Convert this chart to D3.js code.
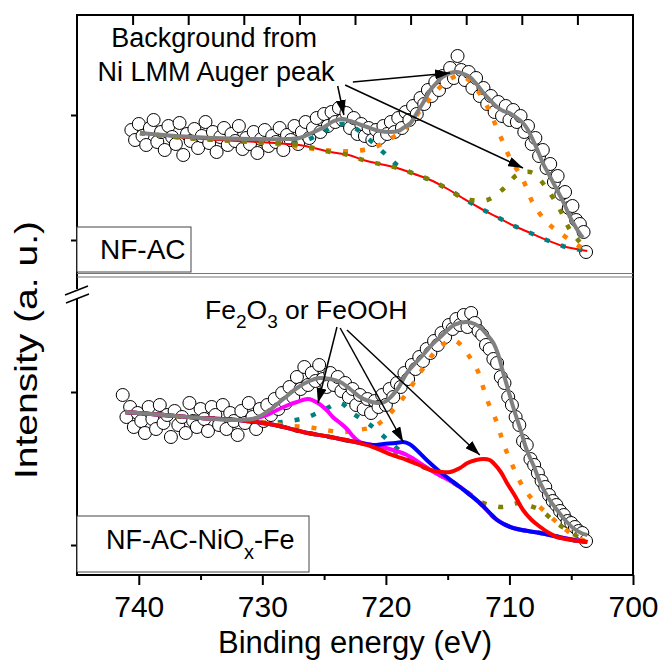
<!DOCTYPE html>
<html>
<head>
<meta charset="utf-8">
<script src="https://cdn.jsdelivr.net/npm/d3@7"></script>
<style>
body { margin: 0; background: #fff; }
text { font-family: Arial, "Liberation Sans", sans-serif; fill: #000; }
</style>
</head>
<body>
<div id="chart"></div>
<script>
const width = 662;
const height = 661;

// ---- data: NF-AC (top panel), [binding energy, intensity a.u.] ----
const topPts = [[740.6,110],[740.3,100],[740.0,116],[739.7,104],[739.4,95],[739.1,112],[738.8,120],[738.5,98],[738.2,108],[737.9,90],
  [737.6,114],[737.3,103],[737.0,96],[736.7,117],[736.4,85],[736.1,106],[735.8,99],[735.5,111],[735.2,92],[734.9,104],
  [734.6,118],[734.3,97],[734.0,108],[733.7,88],[733.4,103],[733.1,112],[732.8,95],[732.5,106],[732.2,99],[731.9,114],
  [731.6,91],[731.3,102],[731.0,96],[730.7,108],[730.4,87],[730.1,101],[729.8,110],[729.5,94],[729.2,104],[728.9,98],
  [728.6,112],[728.3,90],[728.0,105],[727.7,100],[727.4,114],[727.1,96],[726.8,108],[726.5,118],[726.2,102],[725.9,112],
  [725.6,122],[725.3,108],[725.0,126],[724.7,114],[724.4,128],[724.1,118],[723.8,132],[723.5,120],[723.2,127],[722.9,112],
  [722.6,122],[722.3,106],[722.0,116],[721.7,104],[721.4,112],[721.1,100],[720.8,110],[720.5,102],[720.2,114],[719.9,106],
  [719.6,118],[719.3,108],[719.0,122],[718.7,112],[718.4,128],[718.1,120],[717.8,134],[717.5,126],[717.2,142],[716.9,136],
  [716.6,150],[716.3,144],[716.0,158],[715.7,150],[715.4,164],[715.1,158],[714.8,172],[714.5,162],[714.2,184],[713.9,170],
  [713.6,160],[713.3,168],[713.0,152],[712.7,162],[712.4,144],[712.1,152],[711.8,136],[711.5,144],[711.2,128],[710.9,138],
  [710.6,124],[710.3,134],[710.0,120],[709.7,130],[709.4,118],[709.1,124],[708.8,108],[708.5,114],[708.2,96],[707.9,102],
  [707.6,84],[707.3,90],[707.0,72],[706.7,76],[706.4,58],[706.1,64],[705.8,46],[705.5,48],[705.2,32],[704.9,34],
  [704.6,20],[704.3,16],[704.0,8],[703.8,-12]];
const topFit = [[739.9,107],[737,104],[734,102],[731,101],[728,101],[727,102],[726,107],[725,113],[724.2,119],[723.5,121],
  [722.9,119],[722,115],[721.3,112],[720.5,109],[719.7,108],[719,109],[718.6,112],[718,117],[717.5,127],[717,137],
  [716.4,150],[715.9,157],[715.4,163],[714.8,167],[714.2,168],[713.7,166],[713.2,163],[712.6,155],[712.1,147],[711.5,139],
  [711,133],[710.5,129],[710,127],[709.5,123],[708.9,117],[708.5,110],[708.1,100],[707.7,89],[707.3,77],[706.7,63],
  [706.15,50],[705.6,37],[705.1,23],[704.6,12],[704.05,2]];
const topBg = [[739.9,107],[736,102],[732,99],[729,97],[727,95],[725.5,91],[724.5,88],[723,85],[721.85,80],[720.5,76],
  [719.1,72],[717.7,66],[716.4,60],[715,51],[713.8,42],[712.4,32],[711,23],[709.6,14],[708.3,7],[707,0],
  [705.7,-6],[704.6,-9],[703.7,-11]];
const topTeal = [[739.9,107],[736,102],[732,99],[729,97],[727.8,97],[726.4,100],[725.1,108],[724,115],[723.3,116],[722.5,112],
  [721.3,100],[720.4,90],[719.8,83],[719.1,75],[717.7,66],[716.4,60],[715,51],[713.8,42],[712.4,32],[711,23],
  [709.6,14],[708.3,7],[707,0],[705.7,-6],[704.6,-9],[703.7,-11]];
const topOrange = [[739.9,107],[736,102],[732,99],[729.5,97],[728,95],[726.4,92],[725.1,90],[723.8,89],[722.5,89],[721.1,92],
  [719.8,100],[718.3,113],[717,133],[715.6,153],[714.8,161],[714,165],[713.3,160],[712.6,150],[711.9,136],[711.3,120],
  [710.6,100],[710,83],[708.9,60],[708.1,37],[707,18],[705.9,7],[704.5,-5],[703.7,-11]];
const topOlive = [[739.9,107],[736,102],[732,99],[729,97],[727,95],[725.5,91],[724.5,88],[723,85],[721.85,80],[720.5,76],
  [719.1,72],[717.7,66],[716.4,60],[715,51],[713.8,42],[713.2,40],[711.8,40],[710.6,50],[709.4,65],[708.7,68],
  [708.1,67],[707,52],[705.9,30],[705.1,10],[704.45,0],[703.7,-11]];

// ---- data: NF-AC-NiOx-Fe (bottom panel) ----
const botPts = [[741.3,150],[741.0,128],[740.7,138],[740.4,118],[740.1,132],[739.8,124],[739.5,112],[739.2,138],[738.9,126],[738.6,116],
  [738.3,140],[738.0,122],[737.7,130],[737.4,108],[737.1,134],[736.8,120],[736.5,128],[736.2,112],[735.9,142],[735.6,124],
  [735.3,118],[735.0,136],[734.7,126],[734.4,114],[734.1,138],[733.8,130],[733.5,120],[733.2,140],[732.9,116],[732.6,132],
  [732.3,124],[732.0,110],[731.7,134],[731.4,122],[731.1,142],[730.8,128],[730.5,116],[730.2,136],[729.9,124],[729.6,140],
  [729.3,130],[729.0,146],[728.7,136],[728.4,152],[728.1,142],[727.8,158],[727.5,148],[727.2,168],[726.9,156],[726.6,178],
  [726.3,160],[726.0,172],[725.7,164],[725.4,180],[725.1,166],[724.8,158],[724.5,172],[724.2,160],[723.9,168],[723.6,154],
  [723.3,162],[723.0,148],[722.7,156],[722.4,140],[722.1,150],[721.8,136],[721.5,146],[721.2,132],[720.9,144],[720.6,138],
  [720.3,150],[720.0,140],[719.7,156],[719.4,148],[719.1,162],[718.8,158],[718.5,172],[718.2,166],[717.9,180],[717.6,176],
  [717.3,188],[717.0,184],[716.7,196],[716.4,192],[716.1,204],[715.8,200],[715.5,212],[715.2,208],[714.9,220],[714.6,216],
  [714.3,226],[714.0,220],[713.7,230],[713.4,218],[713.1,232],[712.8,222],[712.5,214],[712.2,210],[711.9,200],[711.6,196],
  [711.3,186],[711.0,182],[710.7,168],[710.4,162],[710.1,148],[709.8,140],[709.5,128],[709.2,120],[708.9,104],[708.6,100],
  [708.3,86],[708.0,80],[707.7,72],[707.4,64],[707.1,58],[706.8,50],[706.5,44],[706.2,40],[705.9,34],[705.6,30],
  [705.3,24],[705.0,22],[704.7,18],[704.4,14],[704.1,12],[703.8,4]];
const botFit = [[741.1,133],[738,130],[735,127],[732,125],[730.5,127],[729.4,135],[728.3,146],[727.2,157],[726.2,164],[725.4,167],
  [724.5,166],[723.7,163],[722.9,156],[722.1,148],[721.4,144],[720.7,142],[720.1,143],[719.6,148],[719,157],[718.3,172],
  [717.6,182],[717,190],[716.3,200],[715.6,208],[715,215],[714.5,220],[713.5,223],[712.8,221],[712.4,218],[711.8,210],
  [711.3,202],[710.9,190],[710.5,172],[710.1,155],[709.7,138],[709.1,115],[708.6,95],[708,78],[707.5,62],[706.8,46],
  [706.15,35],[705.5,25],[704.85,17],[704.2,12],[703.7,10]];
const botRed = [[741.1,133],[738,130],[735,127],[732,125],[729,120],[726.7,113],[724.5,108],[722.9,104],[721.05,98],[719.5,90],
  [718.3,85],[717.3,80],[716.4,75],[715.5,73],[714.8,73],[714,77],[713.4,82],[712.7,85],[712.1,86],[711.6,85],
  [711.3,82],[710.7,73],[710.2,62],[709.5,48],[708.9,35],[708.2,25],[707.5,18],[706.8,12],[706.15,8],[705,5],[703.7,3]];
const botBlue = [[741.1,133],[738,130],[735,127],[732,125],[729,120],[726.7,113],[724.5,108],[722.9,104],[721.05,100],[720.2,101],
  [719.2,102],[718.6,103],[718.1,101],[717.6,96],[716.7,85],[715.6,73],[714,58],[712.4,42],[711,25],[710.3,20],
  [709.7,17],[708.5,14],[707.5,12],[706,8],[704.85,5],[703.7,3]];
const botMagenta = [[741.1,133],[738,130],[735,127],[732,125],[731,125],[730.4,127],[729.6,130],[728.8,135],[727.9,140],[727.2,143],
  [726.3,146],[725.5,142],[724.8,135],[724.3,128],[723.7,122],[723.15,116],[722.6,108],[722.1,103],[721.05,100],[720,97],
  [718.3,90],[716.4,75],[714,58],[712.4,42],[711,25],[709.7,17],[707.5,12],[706,8],[703.7,3]];
const botTeal = [[741.1,133],[738,130],[735,127],[732,125],[729.5,122],[727.8,124],[726.3,128],[724.9,136],[723.7,142],[722.7,132],
  [721.05,118],[719.67,103],[718.45,90],[717.3,80],[716.4,75],[715.5,70],[714,58],[712.4,42],[711,25],[709.7,17],
  [708.5,14],[707.5,12],[706,8],[704.85,5],[703.7,3]];
const botOrange = [[741.1,133],[738,130],[735,127],[732,125],[729.5,122],[727.8,119],[726.3,118],[724.9,115],[723.5,113],[722.3,115],
  [721.05,118],[720.2,125],[719.4,135],[718.3,152],[717.25,172],[715.9,195],[715.2,202],[714.57,205],[714,201],[713.44,192],
  [712.6,175],[711.8,145],[711,122],[710.5,102],[709.7,78],[708.9,58],[708.1,45],[707,32],[705.9,20],[704.85,10],[703.7,3]];
const botOlive = [[741.1,133],[738,130],[735,127],[732,125],[729,120],[726.7,113],[724.5,108],[722.9,104],[721.05,99],[718.3,88],
  [716.4,75],[714,58],[713,49],[712.1,42],[711.2,39],[710.5,38],[709.7,41],[709.15,42],[708.3,39],[707.5,35],
  [706.5,25],[705.35,15],[704.3,7],[703.7,3]];

const xMajor = [740, 730, 720, 710, 700];
const xMinor = [735, 725, 715, 705];
const topTicks = [745, 740, 735, 730, 725, 720, 715, 710, 705];

// annotations, in data units of each panel
const topArrows = [[[722.67,158],[714.8,167]], [[723.3,155],[708.9,72]], [[723.9,154],[723.4,125]]];
const botArrows = [[[723.96,218],[725.5,142]], [[723.7,217],[718.6,103]], [[723.15,215],[712.4,90]]];

const svg = d3.select("#chart").append("svg")
    .attr("width", width)
    .attr("height", height);

const x = d3.scaleLinear().domain([745, 700]).range([77, 633]);
const xTop = d3.scaleLinear().domain([750, 700]).range([77, 633]);
const yTop = d3.scaleLinear().domain([0, 125]).range([240, 115]);
const yBot = d3.scaleLinear().domain([0, 153]).range([545, 392]);

svg.append("defs").append("marker")
    .attr("id", "arrow")
    .attr("markerUnits", "userSpaceOnUse")
    .attr("markerWidth", 15).attr("markerHeight", 10)
    .attr("refX", 15).attr("refY", 5)
    .attr("orient", "auto")
    .append("path")
    .attr("d", "M0,0 L15,5 L0,10 Z")
    .attr("fill", "#000");

function curve(y) {
    return d3.line()
        .x(d => x(d[0]))
        .y(d => y(d[1]))
        .curve(d3.curveCatmullRom.alpha(0.5));
}

function drawLine(g, data, y, color, w, dash) {
    g.append("path")
        .datum(data)
        .attr("fill", "none")
        .attr("stroke", color)
        .attr("stroke-width", w)
        .attr("stroke-dasharray", dash || null)
        .attr("d", curve(y));
}

function drawPoints(g, data, y) {
    g.append("g").selectAll("circle")
        .data(data)
        .join("circle")
        .attr("cx", d => x(d[0]))
        .attr("cy", d => y(d[1]))
        .attr("r", 6.5)
        .attr("fill", "#fff")
        .attr("stroke", "#000")
        .attr("stroke-width", 1);
}

function drawArrows(g, arrows, y) {
    g.selectAll(null)
        .data(arrows)
        .join("line")
        .attr("x1", d => x(d[0][0])).attr("y1", d => y(d[0][1]))
        .attr("x2", d => x(d[1][0])).attr("y2", d => y(d[1][1]))
        .attr("stroke", "#000")
        .attr("stroke-width", 1.5)
        .attr("marker-end", "url(#arrow)");
}

const dots = "5,12";

// top panel
const gt = svg.append("g");
drawPoints(gt, topPts, yTop);
drawLine(gt, topBg, yTop, "#ff0000", 2);
drawLine(gt, topTeal, yTop, "#008080", 4.5, dots);
drawLine(gt, topOrange, yTop, "#ff8000", 4.5, dots);
drawLine(gt, topOlive, yTop, "#808000", 4.5, dots);
drawLine(gt, topFit, yTop, "#808080", 4);
drawArrows(gt, topArrows, yTop);

gt.append("text")
    .attr("x", x(733.9)).attr("y", yTop(193))
    .attr("text-anchor", "middle")
    .style("font-size", "27px")
    .text("Background from");
gt.append("text")
    .attr("x", x(733.75)).attr("y", yTop(159))
    .attr("text-anchor", "middle")
    .style("font-size", "27px")
    .text("Ni LMM Auger peak");

// bottom panel
const gb = svg.append("g");
drawPoints(gb, botPts, yBot);
drawLine(gb, botTeal, yBot, "#008080", 4.5, dots);
drawLine(gb, botOrange, yBot, "#ff8000", 4.5, dots);
drawLine(gb, botOlive, yBot, "#808000", 4.5, dots);
drawLine(gb, botMagenta, yBot, "#ff00ff", 4);
drawLine(gb, botBlue, yBot, "#0000ff", 4);
drawLine(gb, botRed, yBot, "#ff0000", 4);
drawLine(gb, botFit, yBot, "#808080", 4);
drawArrows(gb, botArrows, yBot);

const fe = gb.append("text")
    .attr("x", x(734.64)).attr("y", yBot(226))
    .style("font-size", "26.5px");
fe.append("tspan").text("Fe");
fe.append("tspan").attr("dy", 9).style("font-size", "19px").text("2");
fe.append("tspan").attr("dy", -9).text("O");
fe.append("tspan").attr("dy", 9).style("font-size", "19px").text("3");
fe.append("tspan").attr("dy", -9).text(" or FeOOH");

// frame
const frame = svg.append("g").attr("stroke", "#000").attr("stroke-width", 2);
frame.append("line").attr("x1", 76).attr("x2", 634).attr("y1", 15).attr("y2", 15);
frame.append("line").attr("x1", 633).attr("x2", 633).attr("y1", 15).attr("y2", 575);
frame.append("line").attr("x1", 76).attr("x2", 634).attr("y1", 575).attr("y2", 575);
frame.append("line").attr("x1", 77).attr("x2", 77).attr("y1", 15).attr("y2", 289);
frame.append("line").attr("x1", 77).attr("x2", 77).attr("y1", 299).attr("y2", 575);
frame.append("line").attr("x1", 65).attr("x2", 88).attr("y1", 295).attr("y2", 286).attr("stroke-width", 1.5);
frame.append("line").attr("x1", 66).attr("x2", 89).attr("y1", 303).attr("y2", 294).attr("stroke-width", 1.5);

svg.append("line").attr("x1", 77).attr("x2", 633).attr("y1", 273.5).attr("y2", 273.5)
    .attr("stroke", "#777").attr("stroke-width", 1.2);
svg.append("line").attr("x1", 77).attr("x2", 633).attr("y1", 277).attr("y2", 277)
    .attr("stroke", "#777").attr("stroke-width", 1.2);

// axes
const xAxis = svg.append("g")
    .attr("transform", "translate(0,575)")
    .call(d3.axisBottom(x).tickValues(xMajor).tickSize(10).tickSizeOuter(0));
xAxis.select(".domain").remove();
xAxis.selectAll("line").attr("stroke-width", 2);
xAxis.selectAll("text")
    .attr("dy", null)
    .attr("y", 42)
    .style("font-size", "30px")
    .style("font-family", "Arial, 'Liberation Sans', sans-serif");

const xAxisMinor = svg.append("g")
    .attr("transform", "translate(0,575)")
    .call(d3.axisBottom(x).tickValues(xMinor).tickSize(5).tickFormat(""));
xAxisMinor.select(".domain").remove();
xAxisMinor.selectAll("line").attr("stroke-width", 2);

const xAxisTop = svg.append("g")
    .attr("transform", "translate(0,15)")
    .call(d3.axisBottom(xTop).tickValues(topTicks).tickSize(10).tickFormat(""));
xAxisTop.select(".domain").remove();
xAxisTop.selectAll("line").attr("stroke-width", 2);

[[yTop, [0, 125]], [yBot, [0, 153]]].forEach(([y, vals]) => {
    const a = svg.append("g")
        .attr("transform", "translate(77,0)")
        .call(d3.axisLeft(y).tickValues(vals).tickSize(6).tickFormat(""));
    a.select(".domain").remove();
    a.selectAll("line").attr("stroke-width", 2);
});

svg.append("text")
    .attr("x", 355).attr("y", 653)
    .attr("text-anchor", "middle")
    .style("font-size", "31px")
    .text("Binding energy (eV)");

svg.append("text")
    .attr("transform", "translate(37,350) rotate(-90)")
    .attr("text-anchor", "middle")
    .attr("textLength", 258)
    .attr("lengthAdjust", "spacingAndGlyphs")
    .style("font-size", "31px")
    .text("Intensity (a. u.)");

// sample labels
const lab1 = svg.append("g");
lab1.append("rect").attr("x", 77).attr("y", 227).attr("width", 114).attr("height", 45)
    .attr("fill", "#fff").attr("stroke", "#444").attr("stroke-width", 1);
lab1.append("text").attr("x", 100).attr("y", 259).style("font-size", "28px").text("NF-AC");

const lab2 = svg.append("g");
lab2.append("rect").attr("x", 77).attr("y", 516).attr("width", 232).attr("height", 56)
    .attr("fill", "#fff").attr("stroke", "#444").attr("stroke-width", 1);
const t2 = lab2.append("text").attr("x", 106).attr("y", 549).style("font-size", "27px");
t2.append("tspan").text("NF-AC-NiO");
t2.append("tspan").attr("dy", 10).style("font-size", "20px").text("x");
t2.append("tspan").attr("dy", -10).text("-Fe");
</script>
</body>
</html>
